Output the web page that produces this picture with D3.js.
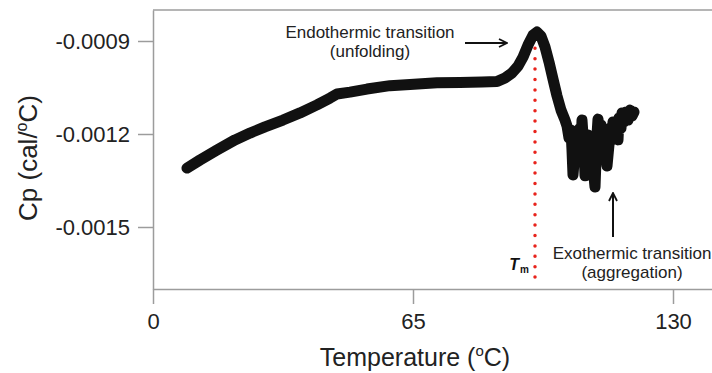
<!DOCTYPE html>
<html>
<head>
<meta charset="utf-8">
<script src="https://cdn.jsdelivr.net/npm/d3@7/dist/d3.min.js"></script>
<style>
  html, body { margin: 0; padding: 0; background: #fff; }
  svg { display: block; font-family: "Liberation Sans", Arial, Helvetica, sans-serif; }
</style>
</head>
<body>
<svg id="chart" width="712" height="373"></svg>
<script>
// DSC thermogram: heat capacity vs temperature
const temperature = [
  8.5, 11.75, 16.0, 20.5, 24.25, 28.0, 32.5, 36.75, 41.0, 44.25, 46.0, 49.25,
  53.5, 59.25, 64.25, 71.0, 76.75, 82.25, 86.0, 88.0, 89.75, 91.25, 92.5, 93.75,
  95.0, 96.0, 97.0, 98.0, 99.0, 100.0, 101.0, 102.0, 103.0,
  103.5, 104.0, 104.5, 104.75, 105.0, 105.5, 105.75, 106.25, 106.75, 107.0,
  107.25, 107.75, 108.0, 108.5, 108.75, 109.25, 109.5, 110.0, 110.5, 110.75,
  111.0, 111.25, 111.75, 112.0, 112.5, 112.75, 113.25, 113.5, 114.0, 114.25,
  114.75, 115.0, 115.5, 116.0, 116.25, 116.5, 117.0, 117.25, 117.75, 118.25,
  118.75, 119.25, 119.75, 120.25
];
const cp = [
  -0.001310, -0.001284, -0.001252, -0.001219, -0.001197, -0.001177, -0.001155,
  -0.001132, -0.001106, -0.001084, -0.001071, -0.001065, -0.001055, -0.001044,
  -0.001040, -0.001035, -0.001034, -0.001032, -0.001031, -0.001019, -0.001003,
  -0.000981, -0.000952, -0.000913, -0.000881, -0.000871, -0.000884, -0.000919,
  -0.000968, -0.001023, -0.001077, -0.001123, -0.001155,
  -0.001174, -0.001213, -0.001187, -0.001252, -0.001332, -0.001252, -0.001194,
  -0.001235, -0.001181, -0.001252, -0.001155, -0.001252, -0.001335, -0.001252,
  -0.001203, -0.001268, -0.001213, -0.001300, -0.001371, -0.001284, -0.001203,
  -0.001152, -0.001219, -0.001171, -0.001252, -0.001203, -0.001268, -0.001303,
  -0.001235, -0.001181, -0.001219, -0.001161, -0.001213, -0.001181, -0.001219,
  -0.001148, -0.001181, -0.001132, -0.001161, -0.001129, -0.001155, -0.001123,
  -0.001142, -0.001129
];
const xTicks = [0, 65, 130];
const yTicks = [-0.0009, -0.0012, -0.0015];
const meltingTemp = 95.5;
const meltingLineTop = -0.00089;

const svg = d3.select("#chart");
const margin = { left: 153, top: 10, bottom: 84 };
const W = 712, H = 373;

const x = d3.scaleLinear().domain([0, 140]).range([margin.left, margin.left + 140 * 4]);
const y = d3.scaleLinear().domain([-0.0017, -0.0008]).range([H - margin.bottom, margin.top]);

const axisColor = "#9c9c9c";
const textColor = "#222";

// top frame line
svg.append("line")
  .attr("x1", x(0)).attr("x2", W)
  .attr("y1", y(-0.0008)).attr("y2", y(-0.0008))
  .attr("stroke", axisColor).attr("stroke-width", 1.5);

// x axis
const gx = svg.append("g")
  .attr("transform", `translate(0,${y(-0.0017)})`)
  .call(d3.axisBottom(x).tickValues(xTicks).tickSize(15).tickSizeOuter(0).tickPadding(9)
    .tickFormat(d => String(d)));
gx.select(".domain").attr("stroke", axisColor).attr("stroke-width", 1.5);
gx.selectAll(".tick line").attr("stroke", axisColor).attr("stroke-width", 1.5);
gx.selectAll(".tick text").attr("fill", textColor).attr("font-size", 22).attr("font-family", null);

// y axis
const gy = svg.append("g")
  .attr("transform", `translate(${x(0)},0)`)
  .call(d3.axisLeft(y).tickValues(yTicks).tickSize(15).tickSizeOuter(0).tickPadding(8)
    .tickFormat(d => d.toFixed(4)));
gy.select(".domain").attr("stroke", axisColor).attr("stroke-width", 1.5);
gy.selectAll(".tick line").attr("stroke", axisColor).attr("stroke-width", 1.5);
gy.selectAll(".tick text").attr("fill", textColor).attr("font-size", 22).attr("font-family", null);

// axis titles
const xt = svg.append("text")
  .attr("x", 415).attr("y", 366)
  .attr("text-anchor", "middle").attr("font-size", 25).attr("fill", textColor);
xt.append("tspan").text("Temperature (");
xt.append("tspan").attr("font-size", 15).attr("dy", -10).text("o");
xt.append("tspan").attr("dy", 10).text("C)");

const yt = svg.append("text")
  .attr("transform", `translate(37,158) rotate(-90)`)
  .attr("text-anchor", "middle").attr("font-size", 26).attr("fill", textColor);
yt.append("tspan").text("Cp (cal/");
yt.append("tspan").attr("font-size", 16).attr("dy", -10).text("o");
yt.append("tspan").attr("dy", 10).text("C)");

// melting temperature marker
svg.append("line")
  .attr("x1", x(meltingTemp)).attr("x2", x(meltingTemp))
  .attr("y1", y(meltingLineTop)).attr("y2", y(-0.0017) - 2)
  .attr("stroke", "#e8231c").attr("stroke-width", 3.5)
  .attr("stroke-linecap", "round").attr("stroke-dasharray", "0 10.4");

// thermogram trace
const pts = temperature.map((t, i) => [t, cp[i]]);
svg.append("path")
  .datum(pts)
  .attr("d", d3.line().x(d => x(d[0])).y(d => y(d[1])))
  .attr("fill", "none").attr("stroke", "#111").attr("stroke-width", 11)
  .attr("stroke-linejoin", "round").attr("stroke-linecap", "round");

// annotations
svg.append("defs").append("marker")
  .attr("id", "arrowhead").attr("viewBox", "0 0 10 10")
  .attr("refX", 9).attr("refY", 5).attr("markerWidth", 10).attr("markerHeight", 10)
  .attr("markerUnits", "userSpaceOnUse").attr("orient", "auto")
  .append("path").attr("d", "M1,1 L9,5 L1,9").attr("fill", "none")
  .attr("stroke", "#111").attr("stroke-width", 1.8);

const ann = svg.append("g").attr("fill", textColor).attr("font-size", 17).attr("text-anchor", "middle");
ann.append("text").attr("x", 370).attr("y", 38).text("Endothermic transition");
ann.append("text").attr("x", 370).attr("y", 57).text("(unfolding)");
ann.append("text").attr("x", 632).attr("y", 259).text("Exothermic transition");
ann.append("text").attr("x", 632).attr("y", 278).text("(aggregation)");

svg.append("line")
  .attr("x1", 465).attr("x2", 507).attr("y1", 43).attr("y2", 43)
  .attr("stroke", "#111").attr("stroke-width", 2).attr("marker-end", "url(#arrowhead)");
svg.append("line")
  .attr("x1", 613).attr("x2", 613).attr("y1", 237).attr("y2", 193)
  .attr("stroke", "#111").attr("stroke-width", 2).attr("marker-end", "url(#arrowhead)");

const tm = svg.append("text").attr("x", 529).attr("y", 270).attr("text-anchor", "end")
  .attr("fill", "#111").attr("font-weight", "bold");
tm.append("tspan").attr("font-style", "italic").attr("font-size", 16).text("T");
tm.append("tspan").attr("font-size", 10).attr("dy", 3).attr("dx", 1).text("m");
</script>
</body>
</html>
